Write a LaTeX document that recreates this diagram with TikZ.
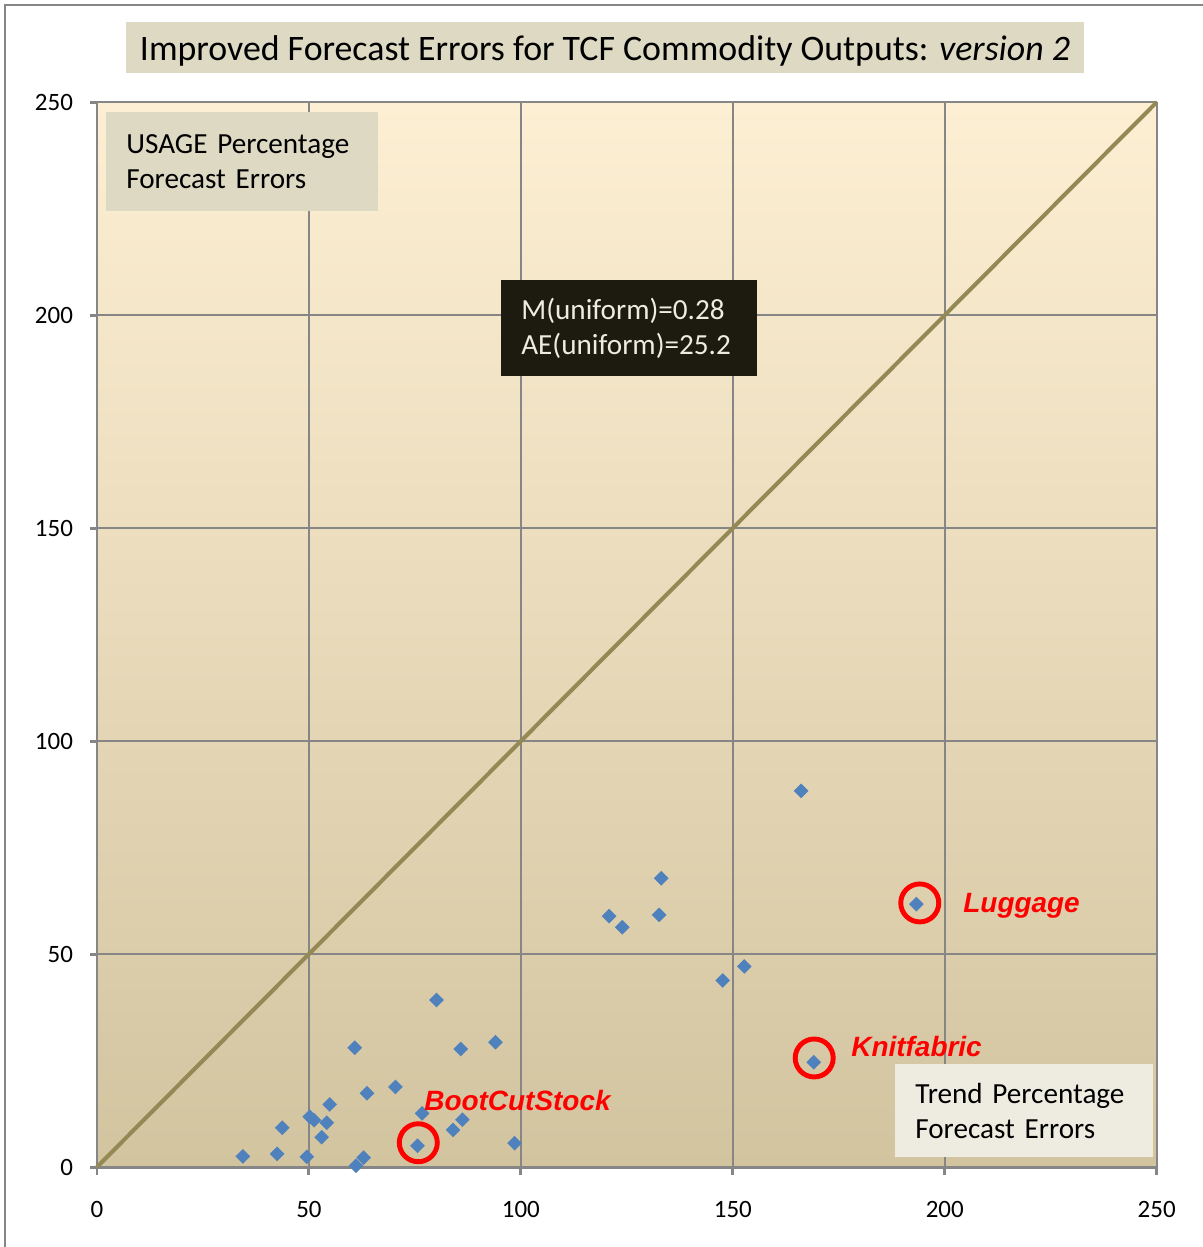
\documentclass[tikz,border=0pt]{standalone}
\usepackage{fontspec}
\setmainfont{Carlito}
\newfontfamily\tagfont{Liberation Sans}
\usetikzlibrary{shapes.geometric}
\definecolor{framegray}{RGB}{134,134,134}
\definecolor{gridgray}{RGB}{134,134,134}
\definecolor{diagolive}{RGB}{148,137,84}
\definecolor{ptblue}{RGB}{79,129,189}
\definecolor{boxtan}{RGB}{221,217,195}
\definecolor{boxlight}{RGB}{238,236,225}
\definecolor{boxdark}{RGB}{29,27,16}
\definecolor{plottop}{RGB}{253,239,211}
\definecolor{plotmid}{RGB}{243,235,213}
\definecolor{plotbottom}{RGB}{211,196,160}
\begin{document}
\begin{tikzpicture}[x=0.02cm, y=-0.02cm,
  frameline/.style={draw=framegray, line width=1.1pt},
  gridline/.style={draw=gridgray, line width=1.3pt},
  axisline/.style={draw=gridgray, line width=1.7pt},
  diagline/.style={draw=diagolive, line width=2.3pt},
  ticklabel/.style={font=\fontsize{14.2}{17}\selectfont, inner sep=0pt},
  datapoint/.style={diamond, fill=ptblue, inner sep=0pt, minimum width=0.3cm, minimum height=0.3cm},
  ring/.style={circle, draw=red, line width=2.8pt, inner sep=0pt, minimum size=0.76cm},
  tag/.style={font=\tagfont\fontsize{15.9}{19}\selectfont\bfseries\itshape, text=red, inner sep=0pt, anchor=west},
  infobox/.style={font=\fontsize{16.6}{19.8}\selectfont, align=left, inner xsep=0.4cm, inner ysep=0pt, anchor=north west}
]
\useasboundingbox (0,0) rectangle (1203,1247);
\draw[frameline] (5,1247) -- (5,5) -- (1203,5);

\node[fill=boxtan, minimum width=19.16cm, minimum height=1.02cm, inner sep=0pt] (title) at (605,47.5) {};
\node[font=\fontsize{20.4}{24}\selectfont, inner sep=0pt] (title-text) at (605,51) {Improved Forecast Errors for TCF Commodity Outputs: \textit{version 2}};

\shade[top color=plottop, middle color=plotmid, bottom color=plotbottom] (97,102) rectangle (1157,1167);

\begin{scope}[shift={(97,1167)}, x=0.0848cm, y=0.0852cm]
  \foreach \v in {50,100,...,250} {
    \draw[gridline] (\v,0) -- (\v,250);
    \draw[gridline] (0,\v) -- (250,\v);
  }
  \draw[axisline] (0,250) -- (0,0) -- (250,0);
  \foreach \v in {0,50,...,250} {
    \draw[axisline] (0,\v) -- (-1.7,\v);
    \draw[axisline] (\v,0) -- (\v,-1.9);
    \node[ticklabel, anchor=east] (ylab-\v) at (-5.6,\v) {\v};
    \node[ticklabel] (xlab-\v) at (\v,-9.9) {\v};
  }
  \draw[diagline] (0,0) -- (250,250);

  \foreach \px/\py in {166.1/88.3, 133.1/67.8, 120.8/58.9, 123.9/56.3, 132.6/59.2, 152.7/47.1, 147.6/43.8,
      80.1/39.2, 60.8/28.0, 85.8/27.7, 94.0/29.3, 63.7/17.3, 70.4/18.8, 54.9/14.7, 50.2/11.8, 51.2/11.0,
      54.2/10.4, 43.7/9.2, 53.0/7.0, 76.7/12.6, 86.2/11.1, 84.0/8.7, 98.5/5.6, 34.4/2.5, 42.5/3.1,
      49.5/2.4, 62.9/2.2, 61.1/0.3}
    \node[datapoint] at (\px,\py) {};

  \node[datapoint] (luggage) at (193.3,61.7) {};
  \node[datapoint] (knitfabric) at (169.1,24.6) {};
  \node[datapoint] (bootcut) at (75.6,5.0) {};

  \node[ring] (luggage-ring) at (194.1,62.0) {};
  \node[ring] (knitfabric-ring) at (169.2,25.6) {};
  \node[ring] (bootcut-ring) at (75.8,5.7) {};
\end{scope}

\node[infobox, fill=boxtan, text width=4.64cm, minimum height=1.98cm] (usage-box) at (106,112) {USAGE Percentage\\Forecast Errors};
\node[infobox, fill=boxdark, text=boxlight, text width=4.32cm, minimum height=1.92cm] (stats-box) at (501,280) {M(uniform)=0.28\\AE(uniform)=25.2};
\node[infobox, fill=boxlight, text width=4.36cm, minimum height=1.86cm] (trend-box) at (895,1064) {Trend Percentage\\Forecast Errors};

\node[tag] (luggage-tag) at (963,906) {Luggage};
\node[tag] (knitfabric-tag) at (851,1047) {Knitfabric};
\node[tag] (bootcut-tag) at (424,1101) {BootCutStock};
\end{tikzpicture}
\end{document}
